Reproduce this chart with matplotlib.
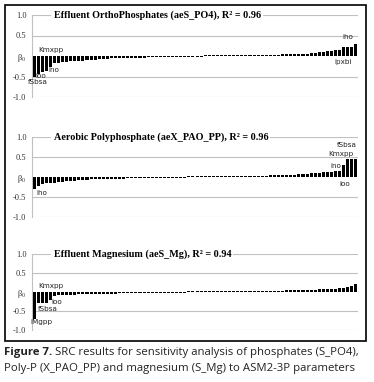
import matplotlib
matplotlib.use('Agg')
import matplotlib.pyplot as plt
from matplotlib.patches import Rectangle
import numpy as np

# ## SRC values (sorted) for the three outputs, 80 parameters each

src_po4 = [-0.50, -0.43, -0.38, -0.37, -0.27, -0.18, -0.16, -0.15, -0.14, -0.13,
           -0.12, -0.12, -0.11, -0.10, -0.10, -0.09, -0.08, -0.08, -0.07, -0.06,
           -0.06, -0.05, -0.05, -0.05, -0.04, -0.04, -0.04, -0.04, -0.03, -0.03,
           -0.03, -0.03, -0.03, -0.03, -0.03, -0.03, -0.03, -0.03, -0.03, -0.03,
           -0.03, -0.03, 0.03, 0.03, 0.03, 0.03, 0.03, 0.03, 0.03, 0.03,
           0.03, 0.03, 0.03, 0.03, 0.03, 0.03, 0.03, 0.03, 0.03, 0.03,
           0.03, 0.04, 0.04, 0.04, 0.05, 0.05, 0.06, 0.06, 0.07, 0.08,
           0.09, 0.10, 0.11, 0.13, 0.14, 0.14, 0.21, 0.22, 0.23, 0.29]

src_pp = [-0.29, -0.22, -0.18, -0.16, -0.15, -0.14, -0.13, -0.12, -0.11, -0.10,
          -0.09, -0.08, -0.08, -0.07, -0.06, -0.06, -0.05, -0.05, -0.05, -0.04,
          -0.04, -0.04, -0.04, -0.03, -0.03, -0.03, -0.03, -0.03, -0.03, -0.03,
          -0.03, -0.03, -0.03, -0.03, -0.03, -0.03, -0.03, -0.03, 0.03, 0.03,
          0.03, 0.03, 0.03, 0.03, 0.03, 0.03, 0.03, 0.03, 0.03, 0.03,
          0.03, 0.03, 0.03, 0.03, 0.03, 0.03, 0.03, 0.03, 0.04, 0.04,
          0.04, 0.05, 0.05, 0.06, 0.06, 0.07, 0.08, 0.08, 0.09, 0.10,
          0.11, 0.12, 0.13, 0.13, 0.14, 0.14, 0.29, 0.44, 0.45, 0.45]

src_mg = [-0.72, -0.30, -0.30, -0.29, -0.20, -0.10, -0.09, -0.08, -0.08, -0.07,
          -0.07, -0.06, -0.06, -0.06, -0.05, -0.05, -0.05, -0.04, -0.04, -0.04,
          -0.04, -0.03, -0.03, -0.03, -0.03, -0.03, -0.03, -0.03, -0.03, -0.03,
          -0.03, -0.03, -0.03, -0.03, -0.03, -0.03, -0.03, -0.03, 0.03, 0.03,
          0.03, 0.03, 0.03, 0.03, 0.03, 0.03, 0.03, 0.03, 0.03, 0.03,
          0.03, 0.03, 0.03, 0.03, 0.03, 0.03, 0.03, 0.03, 0.03, 0.03,
          0.03, 0.03, 0.04, 0.04, 0.04, 0.05, 0.05, 0.05, 0.06, 0.06,
          0.07, 0.07, 0.08, 0.08, 0.09, 0.10, 0.11, 0.13, 0.16, 0.20]

titles = ['Effluent OrthoPhosphates (aeS_PO4), R² = 0.96',
          'Aerobic Polyphosphate (aeX_PAO_PP), R² = 0.96',
          'Effluent Magnesium (aeS_Mg), R² = 0.94']

# parameter labels: (name, bar position, value, anchor)
labels_po4 = [('Kmxpp', 1.0, 0.15, 'left'), ('ioo', 0.3, -0.48, 'left'),
              ('fSbsa', -1.5, -0.63, 'left'), ('ino', 3.6, -0.33, 'left'),
              ('iho', 78.3, 0.46, 'right'), ('ipxbi', 78.0, -0.14, 'right')]
labels_pp = [('iho', 0.6, -0.39, 'left'), ('fSbsa', 79.3, 0.80, 'right'),
             ('Kmxpp', 78.5, 0.57, 'right'), ('ino', 75.4, 0.27, 'right'),
             ('ioo', 77.5, -0.17, 'right')]
labels_mg = [('Kmxpp', 1.0, 0.15, 'left'), ('ioo', 4.2, -0.27, 'left'),
             ('fSbsa', 1.0, -0.45, 'left'), ('iMgpp', -0.9, -0.78, 'left')]

yticks = [-1.0, -0.5, 0.0, 0.5, 1.0]
yticklabels = ['-1.0', '-0.5', r'$\mathregular{β_0}$', '0.5', '1.0']

W, H = 374, 382
fig = plt.figure(figsize=(W / 100, H / 100), dpi=100)

# panel extents in pixels: (top of 1.0, bottom of -1.0)
panels = [(15, 97), (137, 217), (254, 330)]
x_left, x_right = 32, 358

datasets = [src_po4, src_pp, src_mg]
label_sets = [labels_po4, labels_pp, labels_mg]

for (top, bot), vals, title, labs in zip(panels, datasets, titles, label_sets):
    ax = fig.add_axes([x_left / W, 1 - bot / H, (x_right - x_left) / W, (bot - top) / H])
    x = np.arange(len(vals))
    ax.bar(x, vals, width=0.75, color='black', zorder=3)
    ax.set_xlim(-0.5, len(vals) - 0.5)
    ax.set_ylim(-1.0, 1.0)
    ax.set_yticks(yticks)
    ax.set_yticklabels(yticklabels, fontsize=6, family='Liberation Serif', color='#333333')
    ax.tick_params(axis='y', length=0, pad=4)
    ax.set_xticks([])
    for yv in [-1.0, -0.5, 0.5, 1.0]:
        ax.axhline(yv, color='#c0c0c0', lw=0.8, zorder=1)
    for s in ['top', 'right', 'bottom']:
        ax.spines[s].set_visible(False)
    ax.spines['left'].set_color('#c0c0c0')
    ax.spines['left'].set_linewidth(0.8)
    ax.patch.set_alpha(0)
    ax.text(4.8, 1.0, title, fontsize=7.3, fontweight='bold', family='Liberation Serif',
            ha='left', va='center', zorder=5,
            bbox=dict(facecolor='white', edgecolor='none', pad=1.5))
    for name, xp, yp, anchor in labs:
        ax.text(xp, yp, name, fontsize=5.2, family='DejaVu Sans', color='#222222',
                ha=anchor, va='center', zorder=6)

# outer frame
fig.patches.append(Rectangle((5 / W, 1 - 341 / H), 361 / W, 336 / H, transform=fig.transFigure,
                             fill=False, edgecolor='black', lw=1.2))

# caption
cap_size = 8.2
t1 = fig.text(4 / W, 1 - 353 / H, 'Figure 7.', fontsize=cap_size, family='Open Sans',
              fontweight='bold', color='#222222', va='center', ha='left')
fig.canvas.draw()
bb = t1.get_window_extent()
fig.text(bb.x1 / W, 1 - 353 / H, ' SRC results for sensitivity analysis of phosphates (S_PO4),',
         fontsize=cap_size, family='Open Sans', color='#222222', va='center', ha='left')
fig.text(4 / W, 1 - 368 / H, 'Poly-P (X_PAO_PP) and magnesium (S_Mg) to ASM2-3P parameters',
         fontsize=cap_size, family='Open Sans', color='#222222', va='center', ha='left')

fig.savefig('out.png', dpi=100)
